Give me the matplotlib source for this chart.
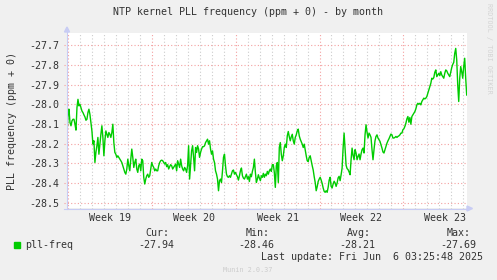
import matplotlib
matplotlib.use('Agg')
import matplotlib.pyplot as plt
import matplotlib.dates as mdates
from matplotlib.transforms import Affine2D
from matplotlib.patches import Polygon, Rectangle
from matplotlib.lines import Line2D
import pandas as pd

# pll frequency (ppm), one sample every 2 hours
start = '2025-05-04 21:20'
freq_part1 = [
    -28.152, -28.051, -28.025, -28.093, -28.109, -28.084, -28.076, -28.076, -28.101, -28.131,
    -28.017, -27.975, -28.008, -28.000, -28.017, -28.034, -28.042, -28.054, -28.064, -28.081,
    -28.076, -28.042, -28.025, -28.051, -28.093, -28.135, -28.202, -28.185, -28.295, -28.244,
    -28.210, -28.168, -28.253, -28.202, -28.152, -28.109, -28.168, -28.261, -28.185, -28.135,
    -28.152, -28.168, -28.143, -28.152, -28.168, -28.143, -28.101, -28.194, -28.244, -28.253,
    -28.269, -28.261, -28.269, -28.278, -28.286, -28.295, -28.311, -28.328, -28.345, -28.354,
    -28.328, -28.278, -28.311, -28.337, -28.278, -28.227, -28.269, -28.320, -28.295, -28.278,
    -28.328, -28.345, -28.311, -28.303, -28.337, -28.278, -28.286, -28.370, -28.404, -28.379,
    -28.362, -28.354, -28.370, -28.362, -28.328, -28.295, -28.311, -28.320, -28.337, -28.328,
    -28.337, -28.337, -28.311, -28.295, -28.286, -28.283, -28.286, -28.295, -28.303, -28.295,
    -28.316, -28.306, -28.328, -28.316, -28.306, -28.311, -28.328, -28.320, -28.311, -28.303,
    -28.337, -28.286, -28.303, -28.320, -28.278, -28.311, -28.328, -28.337, -28.320, -28.328,
    -28.345, -28.311, -28.210, -28.379, -28.311, -28.236, -28.210, -28.269, -28.337, -28.219,
    -28.244, -28.210, -28.227,
]
freq_part2 = [
    -28.269, -28.244, -28.227, -28.215, -28.215, -28.210, -28.194, -28.185, -28.177, -28.202,
    -28.185, -28.227, -28.253, -28.236, -28.278, -28.295, -28.337, -28.354, -28.379, -28.438,
    -28.387, -28.379, -28.396, -28.337, -28.269, -28.253, -28.311, -28.354, -28.367, -28.370,
    -28.362, -28.370, -28.354, -28.337, -28.333, -28.354, -28.345, -28.357, -28.367, -28.384,
    -28.362, -28.337, -28.323, -28.362, -28.374, -28.379, -28.367, -28.354, -28.379, -28.367,
    -28.391, -28.354, -28.367, -28.340, -28.320, -28.278, -28.345, -28.396, -28.379, -28.357,
    -28.374, -28.387, -28.362, -28.370, -28.350, -28.370, -28.354, -28.362, -28.340, -28.354,
    -28.337, -28.328, -28.340, -28.306, -28.306, -28.345, -28.421, -28.311, -28.295, -28.396,
    -28.219, -28.194, -28.253, -28.286, -28.261, -28.219, -28.202, -28.219, -28.160, -28.138,
    -28.165, -28.185, -28.165, -28.152, -28.185, -28.202, -28.168, -28.155, -28.135, -28.126,
    -28.160, -28.177, -28.189, -28.202, -28.219, -28.202, -28.232, -28.261, -28.286, -28.290,
    -28.269, -28.261, -28.286, -28.311, -28.333, -28.367, -28.396, -28.438, -28.418, -28.391,
    -28.379, -28.370, -28.384, -28.401, -28.424, -28.441, -28.446, -28.438, -28.446, -28.421,
    -28.384, -28.370,
]
freq_part3 = [
    -28.416, -28.424, -28.404, -28.390, -28.399, -28.416, -28.399, -28.373, -28.365, -28.387,
    -28.357, -28.323, -28.222, -28.146, -28.230, -28.309, -28.326, -28.331, -28.343, -28.357,
    -28.281, -28.222, -28.259, -28.281, -28.230, -28.247, -28.281, -28.264, -28.252, -28.281,
    -28.252, -28.230, -28.222, -28.247, -28.155, -28.104, -28.141, -28.171, -28.146, -28.155,
    -28.168, -28.230, -28.281, -28.230, -28.185, -28.163, -28.155, -28.171, -28.180, -28.188,
    -28.205, -28.222, -28.242, -28.247, -28.230, -28.213, -28.197, -28.185, -28.175, -28.163,
    -28.151, -28.155, -28.171, -28.171, -28.168, -28.163, -28.168, -28.163, -28.160, -28.155,
    -28.146, -28.146, -28.129, -28.124, -28.112, -28.096, -28.074, -28.062, -28.091, -28.067,
    -28.101, -28.062, -28.054, -28.045, -28.037, -28.023, -28.003, -27.995, -28.000, -27.995,
    -28.003, -27.986, -27.978, -27.969, -27.973, -27.969, -27.961, -27.944, -27.927, -27.910,
    -27.894, -27.868, -27.872, -27.865, -27.838, -27.826, -27.860, -27.852, -27.843, -27.855,
    -27.835, -27.852, -27.860, -27.868, -27.843, -27.826, -27.831, -27.843, -27.852, -27.860,
    -27.838, -27.814, -27.798, -27.788, -27.742, -27.717, -27.776, -27.902, -27.986, -27.868,
    -27.809, -27.835, -27.868, -27.809, -27.767, -27.868, -27.953,
]
freq = freq_part1 + freq_part2 + freq_part3

week_labels = ['Week 19', 'Week 20', 'Week 21', 'Week 22', 'Week 23']
week_starts = ['2025-05-05', '2025-05-12', '2025-05-19', '2025-05-26', '2025-06-02']
yticks = [-27.7, -27.8, -27.9, -28.0, -28.1, -28.2, -28.3, -28.4, -28.5]
stat_names = ['Cur:', 'Min:', 'Avg:', 'Max:']
stat_values = ['-27.94', '-28.46', '-28.21', '-27.69']

W, H = 497, 280
plt.rcParams['font.family'] = 'DejaVu Sans Mono'
plt.rcParams['font.size'] = 7.2
plt.rcParams['axes.unicode_minus'] = False
txt = '#333333'
green = '#00cc00'
axis_col = '#c8ccf4'
mgrid = '#f4a0a0'
grid = '#cccccc'

fig = plt.figure(figsize=(W / 100, H / 100), dpi=100, facecolor='#f0f0f0')
# image pixel coordinates, origin top left
pix = Affine2D().scale(1 / W, -1 / H).translate(0, 1) + fig.transFigure

ax = fig.add_axes([67 / W, 1 - 208.3 / H, (466.7 - 67) / W, (208.3 - 33) / H])
ax.set_facecolor('white')
for s in ax.spines.values():
    s.set_visible(False)

times = pd.date_range(start, periods=len(freq), freq='2h')
t = mdates.date2num(times)
ax.set_xlim(t[0], t[-1])
ylo, yhi = -28.527, -27.639
ax.set_ylim(ylo, yhi)

days = mdates.date2num(pd.date_range('2025-05-05', '2025-06-07', freq='D'))
mondays = mdates.date2num(pd.to_datetime(week_starts))
dot = (0, (1, 2))
ext = 0.0012  # little tick below the axis
for d in days:
    if d in mondays:
        continue
    ax.plot([d, d], [ylo - ext, yhi], color=grid, lw=0.8, ls=dot, clip_on=False, zorder=1)
for d in mondays:
    ax.plot([d, d], [ylo - ext, yhi], color=mgrid, lw=0.8, ls=dot, clip_on=False, zorder=1.5)
for y in yticks:
    ax.plot([t[0] - 0.25, t[-1]], [y, y], color=mgrid, lw=0.8, ls=dot, clip_on=False, zorder=1.5)

ax.plot(t, freq, color=green, lw=1.0, zorder=3)

ax.set_yticks(yticks)
ax.set_yticklabels([f'{v:.1f}' for v in yticks], color=txt)
ax.set_xticks(mondays + 3.5)
ax.set_xticklabels(week_labels, color=txt)
ax.tick_params(axis='both', length=0)
ax.tick_params(axis='y', pad=5.6)
ax.tick_params(axis='x', pad=3.2)

# axis lines with arrows
fig.add_artist(Line2D([67, 67], [208.5, 30], color=axis_col, lw=0.8, transform=pix))
fig.add_artist(Line2D([64, 468], [208.5, 208.5], color=axis_col, lw=0.8, transform=pix))
fig.add_artist(Polygon([(64.5, 32), (69.5, 32), (67, 27)], closed=True, color=axis_col, transform=pix))
fig.add_artist(Polygon([(467, 206), (467, 211), (472.5, 208.5)], closed=True, color=axis_col, transform=pix))

fig.text(248, 12, 'NTP kernel PLL frequency (ppm + 0) - by month', transform=pix,
         ha='center', va='center', color=txt)
fig.text(12, 121, 'PLL frequency (ppm + 0)', transform=pix, rotation=90,
         ha='center', va='center', color=txt)
fig.text(489, 48.5, 'RRDTOOL / TOBI OETIKER', transform=pix, rotation=270,
         ha='center', va='center', color='#d4d4d4', fontsize=4.9)

# legend
fig.add_artist(Rectangle((14, 242), 6, 6, color=green, transform=pix))
fig.text(25.5, 245, 'pll-freq', transform=pix, ha='left', va='center', color=txt)
for i, (name, val) in enumerate(zip(stat_names, stat_values)):
    x0 = 138 + i * 100.7
    fig.text(x0 + 7, 232.5, name, transform=pix, ha='left', va='center', color=txt)
    fig.text(x0, 245, val, transform=pix, ha='left', va='center', color=txt)
fig.text(261, 257.5, 'Last update: Fri Jun  6 03:25:48 2025', transform=pix,
         ha='left', va='center', color=txt)
fig.text(248, 269.5, 'Munin 2.0.37', transform=pix, ha='center', va='center',
         color='#cccccc', fontsize=4.9)

fig.savefig('out.png', dpi=100, facecolor=fig.get_facecolor())
